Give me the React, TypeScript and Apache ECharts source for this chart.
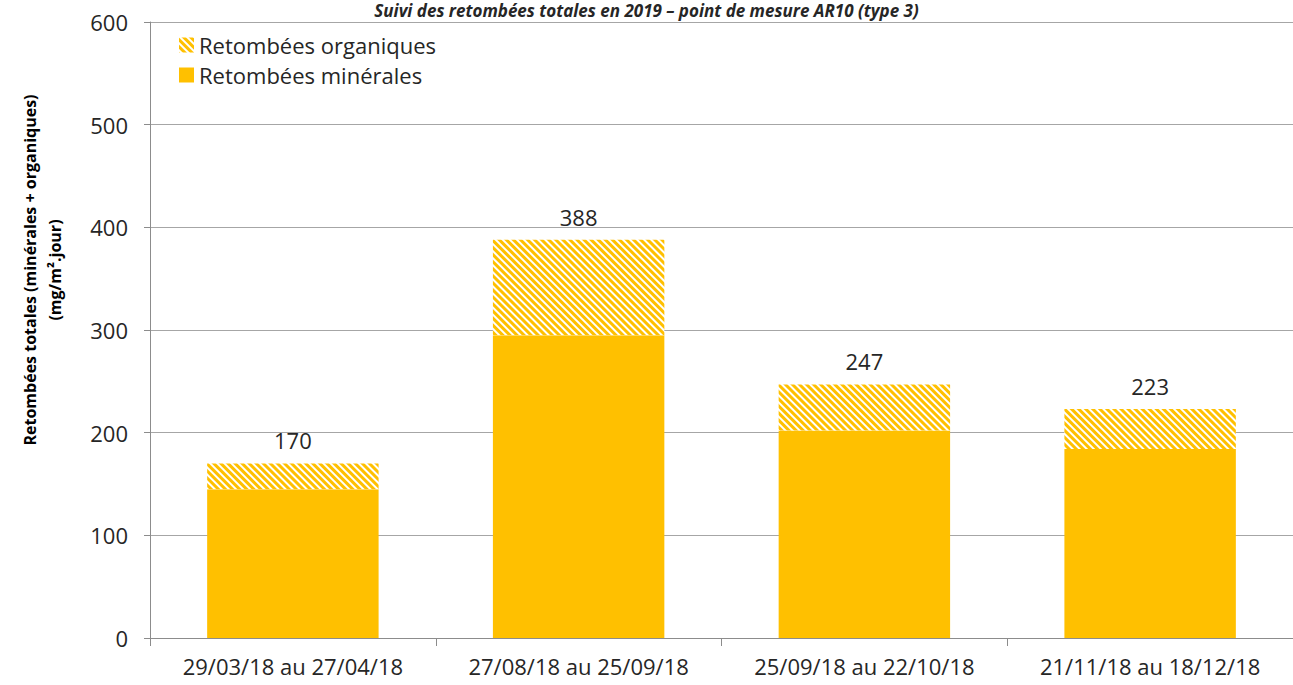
import React, { useEffect, useRef } from "react";
import * as echarts from "echarts";

const categories = [
  "29/03/18 au 27/04/18",
  "27/08/18 au 25/09/18",
  "25/09/18 au 22/10/18",
  "21/11/18 au 18/12/18",
];
const minerales = [145, 295, 202, 184];
const organiques = [25, 93, 45, 39];
const totals = [170, 388, 247, 223];
const yTicks = [0, 100, 200, 300, 400, 500, 600];

const FONT = "'Open Sans', 'Noto Sans', sans-serif";
const YELLOW = "#FFC000";
const TEXT = "#262626";

export default function App() {
  const ref = useRef<HTMLDivElement>(null);
  useEffect(() => {
    if (!ref.current) return;
    const chart = echarts.init(ref.current, undefined, { renderer: "svg" });
    chart.setOption({
      animation: false,
      backgroundColor: "#ffffff",
      textStyle: { fontFamily: FONT },
      graphic: [
        {
          type: "text",
          left: "center",
          top: 2,
          style: {
            text: "Suivi des retombées totales en 2019 – point de mesure AR10 (type 3)",
            font: "italic bold 17px " + FONT,
            fill: TEXT,
          },
        },
        {
          type: "text",
          x: 42,
          y: 270,
          rotation: Math.PI / 2,
          style: {
            text: "Retombées totales (minérales + organiques)\n(mg/m².jour)",
            font: "bold 16px " + FONT,
            fill: "#000",
            align: "center",
            verticalAlign: "middle",
            lineHeight: 25,
          },
        },
      ],
      legend: {
        orient: "vertical",
        left: 174,
        top: 29,
        itemWidth: 15,
        itemHeight: 15,
        itemGap: 8,
        icon: "rect",
        textStyle: { fontSize: 22, color: TEXT, fontFamily: FONT },
        data: ["Retombées organiques", "Retombées minérales"],
      },
      grid: { left: 150, right: -7, top: 22, bottom: 47, containLabel: false },
      xAxis: {
        type: "category",
        data: categories,
        axisLine: { lineStyle: { color: "#8c8c8c", width: 1 } },
        axisTick: { show: true, interval: 0, length: 8, lineStyle: { color: "#8c8c8c" } },
        axisLabel: {
          interval: 0,
          hideOverlap: false,
          fontSize: 22,
          color: TEXT,
          margin: 17,
          fontFamily: FONT,
        },
      },
      yAxis: {
        type: "value",
        min: 0,
        max: 600,
        interval: 100,
        axisLine: { show: true, lineStyle: { color: "#8c8c8c" } },
        axisTick: { show: true, length: 6, lineStyle: { color: "#8c8c8c" } },
        axisLabel: {
          fontSize: 22,
          color: TEXT,
          margin: 22,
          fontFamily: FONT,
          formatter: (v: number) => (yTicks.includes(v) ? String(v) : ""),
        },
        splitLine: { show: true, lineStyle: { color: "#a6a6a6", width: 1 } },
      },
      series: [
        {
          name: "Retombées minérales",
          type: "bar",
          stack: "total",
          barWidth: "60%",
          data: minerales,
          itemStyle: { color: YELLOW },
        },
        {
          name: "Retombées organiques",
          type: "bar",
          stack: "total",
          barWidth: "60%",
          data: organiques,
          itemStyle: {
            color: "#ffffff",
            decal: {
              symbol: "rect",
              color: YELLOW,
              backgroundColor: "#ffffff",
              dashArrayX: [1, 0],
              dashArrayY: [3, 2],
              rotation: Math.PI / 4,
              symbolSize: 1,
            },
          },
          label: {
            show: true,
            position: "top",
            distance: 12,
            fontSize: 22,
            color: TEXT,
            fontFamily: FONT,
            formatter: (p: any) => String(totals[p.dataIndex]),
          },
        },
      ],
    });
    return () => chart.dispose();
  }, []);
  return (
    <div
      ref={ref}
      style={{ position: "fixed", left: 0, top: 0, width: 1293, height: 685 }}
    />
  );
}
